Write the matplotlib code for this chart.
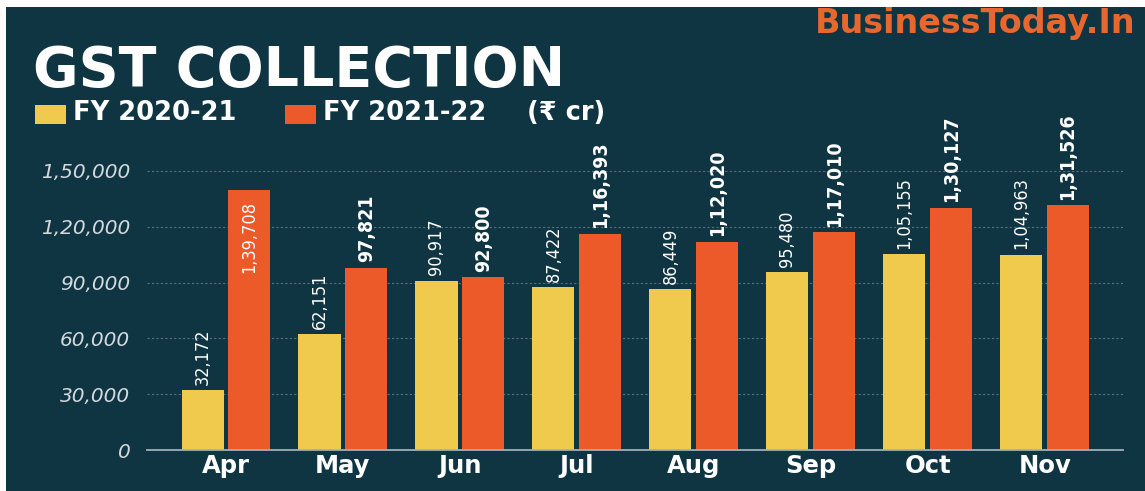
#!/usr/bin/env python3
# GST collection chart, FY 2020-21 vs FY 2021-22

import matplotlib
matplotlib.use("Agg")
import matplotlib.pyplot as plt
import numpy as np
from matplotlib.patches import Rectangle

months = ["Apr", "May", "Jun", "Jul", "Aug", "Sep", "Oct", "Nov"]
fy2021 = [32172, 62151, 90917, 87422, 86449, 95480, 105155, 104963]
fy2122 = [139708, 97821, 92800, 116393, 112020, 117010, 130127, 131526]
yticks = [0, 30000, 60000, 90000, 120000, 150000]

BG = "#0f3543"
YELLOW = "#f0ca4c"
ORANGE = "#ec5a2a"
BRAND = "#e8672f"


def indian(n):
    """ Format an integer with Indian digit grouping (1,39,708). """
    s = str(int(n))
    if len(s) <= 3:
        return s
    head, tail = s[:-3], s[-3:]
    groups = []
    while len(head) > 2:
        groups.insert(0, head[-2:])
        head = head[:-2]
    if head:
        groups.insert(0, head)
    return ",".join(groups) + "," + tail


W, H = 1145, 491
fig = plt.figure(figsize=(W / 100, H / 100), dpi=100)
fig.patch.set_facecolor("white")
fig.patches.append(Rectangle((6 / W, 0), 1, (H - 7) / H, transform=fig.transFigure,
                             facecolor=BG, edgecolor="none", zorder=-10))

# axes: x from px 147 to 1123, y=0 at px 450 from top, 1.86 px per 1000
ax = fig.add_axes([147 / W, (H - 450) / H, 976 / W, 330 / H])
ax.set_facecolor("none")
x = np.arange(len(months))
bw = 0.36
off = 0.2
ax.bar(x - off, fy2021, width=bw, color=YELLOW, zorder=3)
ax.bar(x + off, fy2122, width=bw, color=ORANGE, zorder=3)

ax.set_xlim(-0.675, 7.67)
ax.set_ylim(0, 330 / 1.86 * 1000)

for s in ["top", "right", "left"]:
    ax.spines[s].set_visible(False)
ax.spines["bottom"].set_color("#9fb1b9")
ax.spines["bottom"].set_linewidth(1.3)
ax.spines["bottom"].set_zorder(4)

for v in yticks[1:]:
    ax.axhline(v, color="#56717c", lw=0.8, ls=(0, (2, 2)), zorder=1)

ax.set_yticks(yticks)
ax.set_yticklabels([indian(v) for v in yticks], fontstyle="italic",
                   color="#d3d9dc", fontsize=14.5)
ax.set_xticks(x)
ax.set_xticklabels(months, fontweight="bold", color="white", fontsize=17.5)
ax.tick_params(axis="y", length=0, pad=12)
ax.tick_params(axis="x", length=0, pad=3)

# value labels
for i in range(len(months)):
    ax.annotate(indian(fy2021[i]), (x[i] - off, fy2021[i]), xytext=(0, 4),
                textcoords="offset points", rotation=90, ha="center", va="bottom",
                color="white", fontsize=13, fontstretch="condensed", zorder=5)
    if fy2122[i] > 135000:
        ax.annotate(indian(fy2122[i]), (x[i] + off, fy2122[i]), xytext=(0, -8),
                    textcoords="offset points", rotation=90, ha="center", va="top",
                    color="white", fontsize=13, fontstretch="condensed", zorder=5)
    else:
        ax.annotate(indian(fy2122[i]), (x[i] + off, fy2122[i]), xytext=(0, 4),
                    textcoords="offset points", rotation=90, ha="center", va="bottom",
                    color="white", fontsize=14, fontweight="bold",
                    fontstretch="condensed", zorder=5)

# header
fig.text(33 / W, (H - 86) / H, "GST COLLECTION", color="white", fontsize=40,
         fontweight="bold", va="baseline", ha="left")
fig.text(1136 / W, (H - 33) / H, "BusinessToday.In", color=BRAND, fontsize=24,
         fontweight="bold", va="baseline", ha="right")

# legend
fig.patches.append(Rectangle((35 / W, (H - 124) / H), 31 / W, 19 / H,
                             transform=fig.transFigure, facecolor=YELLOW, edgecolor="none"))
fig.patches.append(Rectangle((285 / W, (H - 124) / H), 31 / W, 19 / H,
                             transform=fig.transFigure, facecolor=ORANGE, edgecolor="none"))
leg_kw = dict(color="white", fontsize=18.5, fontweight="semibold", va="baseline",
              ha="left", family=["DejaVu Sans", "Noto Sans"])
fig.text(73 / W, (H - 120) / H, "FY 2020-21", **leg_kw)
fig.text(323 / W, (H - 120) / H, "FY 2021-22", **leg_kw)
fig.text(527 / W, (H - 120) / H, "(₹ cr)", **leg_kw)

fig.savefig("out.png", dpi=100, facecolor=fig.get_facecolor())
